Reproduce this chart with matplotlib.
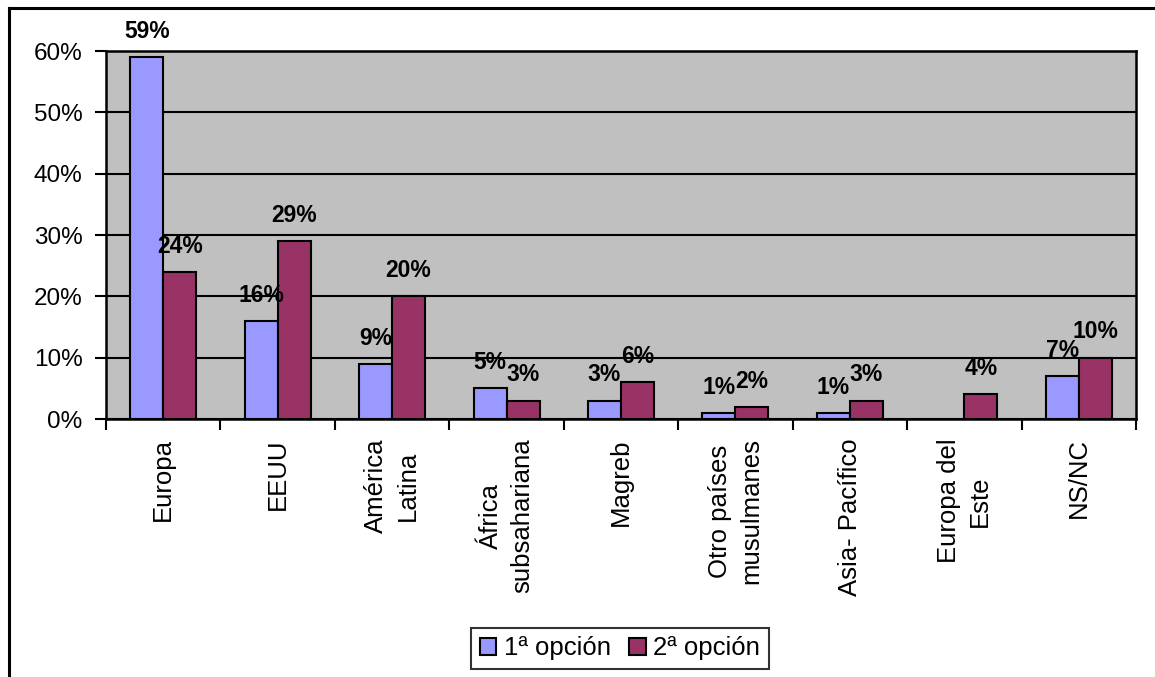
import numpy as np
import matplotlib
matplotlib.use("Agg")
import matplotlib.pyplot as plt
from matplotlib.lines import Line2D
from matplotlib.ticker import FixedLocator, PercentFormatter

categories = ["Europa", "EEUU", "América\nLatina", "África\nsubsahariana", "Magreb",
              "Otro países\nmusulmanes", "Asia- Pacífico", "Europa del\nEste", "NS/NC"]
first_option = [59, 16, 9, 5, 3, 1, 1, None, 7]
second_option = [24, 29, 20, 3, 6, 2, 3, 4, 10]
series_names = ["1ª opción", "2ª opción"]
yticks = [0, 10, 20, 30, 40, 50, 60]

plt.rcParams['font.family'] = ['Liberation Sans', 'DejaVu Sans']

W, H = 1155, 677
fig = plt.figure(figsize=(W / 100, H / 100), dpi=100)
fig.patch.set_facecolor("white")
ax = fig.add_axes([106 / W, 1 - 419 / H, 1030 / W, 368 / H])
ax.set_facecolor("#C0C0C0")

x = np.arange(len(categories))
bw = 0.288
v1 = np.array([np.nan if v is None else v for v in first_option], dtype=float)
v2 = np.array(second_option, dtype=float)
colors = ["#9999FF", "#993366"]

ax.set_axisbelow(True)
ax.yaxis.grid(True, color="black", linewidth=1.5)
b1 = ax.bar(x - bw / 2, v1, width=bw, color=colors[0], edgecolor="black", linewidth=1.5,
            label=series_names[0], zorder=3)
b2 = ax.bar(x + bw / 2, v2, width=bw, color=colors[1], edgecolor="black", linewidth=1.5,
            label=series_names[1], zorder=3)

for xs, vals in ((x - bw / 2, v1), (x + bw / 2, v2)):
    for xi, v in zip(xs, vals):
        if np.isnan(v):
            continue
        ax.annotate(f"{int(v)}%", (xi, v), xytext=(0, 18.5), textcoords="offset points",
                    ha="center", va="center", fontsize=16.5, fontweight="bold", zorder=5,
                    annotation_clip=False)

ax.set_xlim(-0.5, len(categories) - 0.5)
ax.set_ylim(0, 60)
ax.set_yticks(yticks)
ax.yaxis.set_major_formatter(PercentFormatter(decimals=0))
ax.tick_params(axis="y", direction="out", length=8, width=1.5, pad=9, labelsize=17.5)

ax.set_xticks(x)
ax.set_xticklabels(categories, rotation=90, ha="center", va="top", multialignment="center",
                   linespacing=1.4, fontsize=18.5)
ax.tick_params(axis="x", which="major", length=0, pad=14)
ax.xaxis.set_minor_locator(FixedLocator(np.arange(-0.5, len(categories), 1.0)))
ax.tick_params(axis="x", which="minor", direction="out", length=8, width=1.5)

for s in ax.spines.values():
    s.set_color("black")
    s.set_linewidth(1.8)

leg = fig.legend(handles=[b1, b2], labels=series_names, loc="center",
                 bbox_to_anchor=(620 / W, 1 - 648.5 / H), ncol=2, fontsize=18.5,
                 frameon=True, fancybox=False, edgecolor="black", handlelength=0.65,
                 handleheight=0.65, handletextpad=0.3, columnspacing=0.7, borderpad=0.35,
                 borderaxespad=0)
leg.get_frame().set_linewidth(1.5)

fig.add_artist(Line2D([8.5 / W, 8.5 / W], [-0.1, 1 - 7.5 / H], transform=fig.transFigure,
                      color="black", linewidth=2.2))
fig.add_artist(Line2D([8.5 / W, 1.1], [1 - 7.5 / H, 1 - 7.5 / H], transform=fig.transFigure,
                      color="black", linewidth=2.2))

fig.savefig("out.png", dpi=100, facecolor="white")
